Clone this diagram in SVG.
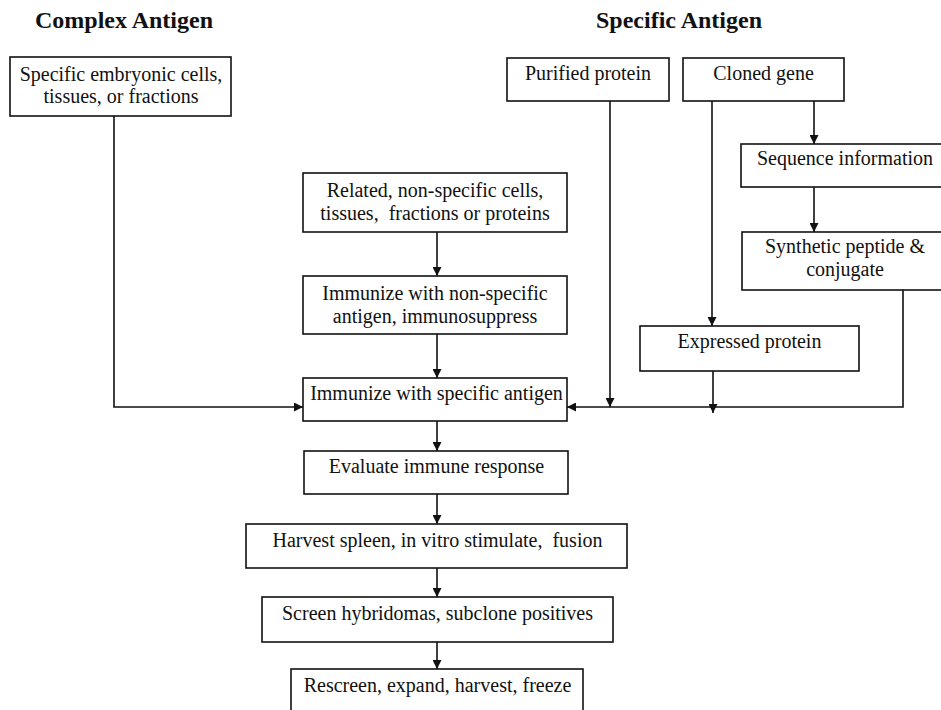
<svg xmlns="http://www.w3.org/2000/svg" width="941" height="710" viewBox="0 0 941 710">
<defs>
<style>
.bx{fill:#fff;stroke:#111;stroke-width:1.6}
.t{font-family:"Liberation Serif","Times New Roman",serif;font-size:20px;fill:#111;text-anchor:middle;white-space:pre}
.h{font-family:"Liberation Serif","Times New Roman",serif;font-size:24px;font-weight:bold;fill:#111;text-anchor:middle}
.c{fill:none;stroke:#111;stroke-width:1.6}
</style>
<marker id="ah" viewBox="0 0 10 10" refX="10" refY="5" markerWidth="9" markerHeight="9" markerUnits="userSpaceOnUse" orient="auto">
<path d="M0,0 L10,5 L0,10 z" fill="#111"/>
</marker>
</defs>
<rect width="941" height="710" fill="#fff"/>
<g id="titles">
<text class="h" x="124" y="28">Complex Antigen</text>
<text class="h" x="679" y="28">Specific Antigen</text>
</g>
<g id="connectors">
<polyline class="c" points="114,116 114,407 303,407" marker-end="url(#ah)"/>
<line class="c" x1="437" y1="232" x2="437" y2="276" marker-end="url(#ah)"/>
<line class="c" x1="437" y1="334" x2="437" y2="378" marker-end="url(#ah)"/>
<line class="c" x1="610" y1="101" x2="610" y2="407" marker-end="url(#ah)"/>
<line class="c" x1="712" y1="101" x2="712" y2="326" marker-end="url(#ah)"/>
<line class="c" x1="814" y1="101" x2="814" y2="144" marker-end="url(#ah)"/>
<line class="c" x1="814" y1="187" x2="814" y2="232" marker-end="url(#ah)"/>
<polyline class="c" points="903,290 903,407 567,407" marker-end="url(#ah)"/>
<line class="c" x1="713" y1="371" x2="713" y2="413" marker-end="url(#ah)"/>
<line class="c" x1="437" y1="421" x2="437" y2="451" marker-end="url(#ah)"/>
<line class="c" x1="437" y1="494" x2="437" y2="524" marker-end="url(#ah)"/>
<line class="c" x1="437" y1="568" x2="437" y2="597" marker-end="url(#ah)"/>
<line class="c" x1="437" y1="642" x2="437" y2="669" marker-end="url(#ah)"/>
</g>
<g id="embryonic">
<rect class="bx" x="10" y="57" width="221" height="59"/>
<text class="t" x="121" y="81">Specific embryonic cells,</text>
<text class="t" x="121" y="103">tissues, or fractions</text>
</g>
<g id="purified">
<rect class="bx" x="507" y="58" width="162" height="43"/>
<text class="t" x="588" y="80">Purified protein</text>
</g>
<g id="cloned">
<rect class="bx" x="683" y="58" width="161" height="43"/>
<text class="t" x="763.5" y="80">Cloned gene</text>
</g>
<g id="sequence">
<rect class="bx" x="741" y="144" width="208" height="43"/>
<text class="t" x="845" y="165">Sequence information</text>
</g>
<g id="synthetic">
<rect class="bx" x="742" y="232" width="207" height="58"/>
<text class="t" x="845" y="253">Synthetic peptide &amp;</text>
<text class="t" x="845" y="276">conjugate</text>
</g>
<g id="related">
<rect class="bx" x="303" y="173" width="264" height="59"/>
<text class="t" x="435" y="197">Related, non-specific cells,</text>
<text class="t" x="435" y="220">tissues,  fractions or proteins</text>
</g>
<g id="nonspecific">
<rect class="bx" x="303" y="276" width="264" height="58"/>
<text class="t" x="435" y="300">Immunize with non-specific</text>
<text class="t" x="435" y="323">antigen, immunosuppress</text>
</g>
<g id="expressed">
<rect class="bx" x="640" y="326" width="219" height="45"/>
<text class="t" x="749.5" y="348">Expressed protein</text>
</g>
<g id="immunize">
<rect class="bx" x="303" y="378" width="264" height="43"/>
<text class="t" x="436.5" y="400">Immunize with specific antigen</text>
</g>
<g id="evaluate">
<rect class="bx" x="304" y="451" width="264" height="43"/>
<text class="t" x="436.5" y="473">Evaluate immune response</text>
</g>
<g id="harvest">
<rect class="bx" x="246" y="524" width="381" height="44"/>
<text class="t" x="437.5" y="547">Harvest spleen, in vitro stimulate,  fusion</text>
</g>
<g id="screen">
<rect class="bx" x="262" y="597" width="351" height="45"/>
<text class="t" x="437.5" y="620">Screen hybridomas, subclone positives</text>
</g>
<g id="rescreen">
<rect class="bx" x="291" y="669" width="292" height="50"/>
<text class="t" x="437.5" y="692">Rescreen, expand, harvest, freeze</text>
</g>
</svg>
